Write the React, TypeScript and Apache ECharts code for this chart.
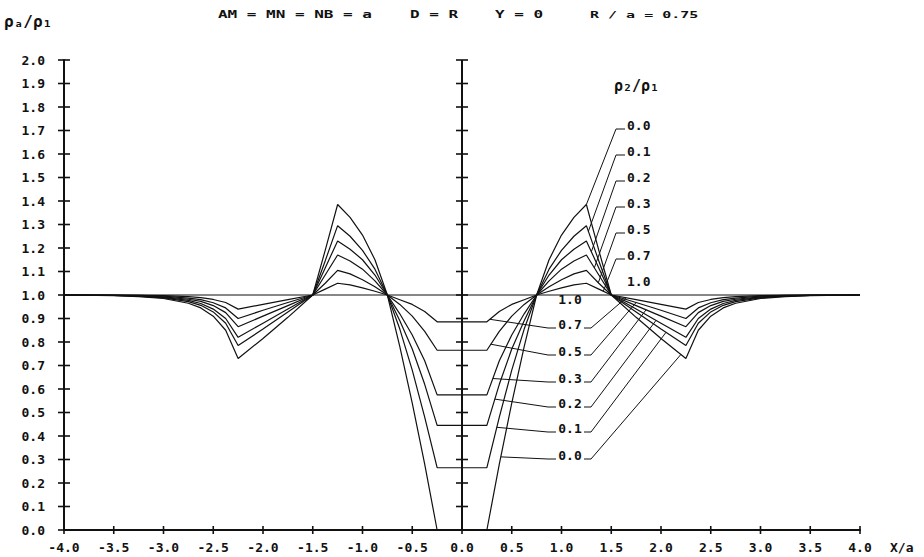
import React, { useEffect, useRef } from "react";
import * as echarts from "echarts";

const INK = "#111";
const MONO = '"DejaVu Sans Mono", "Liberation Mono", "DejaVu Sans", monospace';

// x/a positions at which the apparent-resistivity curves are sampled
const X_POS = [
  -4, -3.5, -3.25, -3, -2.75, -2.625, -2.5, -2.375, -2.25, -2, -1.75, -1.5, -1.375, -1.25, -1.125,
  -1, -0.875, -0.75, -0.625, -0.5, -0.375, -0.25, 0, 0.25, 0.375, 0.5, 0.625, 0.75, 0.875, 1,
  1.125, 1.25, 1.375, 1.5, 1.75, 2, 2.25, 2.375, 2.5, 2.625, 2.75, 3, 3.25, 3.5, 4,
];

// rho_a / rho_1 for each contrast rho_2 / rho_1
const RHO_00 = [
  1.0, 0.997, 0.993, 0.985, 0.965, 0.945, 0.91, 0.85, 0.73, 0.815, 0.905, 1.0, 1.19, 1.385, 1.33,
  1.255, 1.15, 1.0, 0.78, 0.54, 0.28, 0.0, 0.0, 0.0, 0.28, 0.54, 0.78, 1.0, 1.15, 1.255,
  1.33, 1.385, 1.19, 1.0, 0.905, 0.815, 0.73, 0.85, 0.91, 0.945, 0.965, 0.985, 0.993, 0.997, 1.0,
];
const RHO_01 = [
  1.0, 0.998, 0.995, 0.988, 0.972, 0.956, 0.928, 0.88, 0.785, 0.855, 0.928, 1.0, 1.145, 1.295, 1.25,
  1.19, 1.11, 1.0, 0.855, 0.68, 0.48, 0.265, 0.265, 0.265, 0.48, 0.68, 0.855, 1.0, 1.11, 1.19,
  1.25, 1.295, 1.145, 1.0, 0.928, 0.855, 0.785, 0.88, 0.928, 0.956, 0.972, 0.988, 0.995, 0.998, 1.0,
];
const RHO_02 = [
  1.0, 0.998, 0.996, 0.99, 0.977, 0.964, 0.94, 0.9, 0.82, 0.88, 0.94, 1.0, 1.115, 1.23, 1.195,
  1.15, 1.085, 1.0, 0.89, 0.77, 0.62, 0.445, 0.445, 0.445, 0.62, 0.77, 0.89, 1.0, 1.085, 1.15,
  1.195, 1.23, 1.115, 1.0, 0.94, 0.88, 0.82, 0.9, 0.94, 0.964, 0.977, 0.99, 0.996, 0.998, 1.0,
];
const RHO_03 = [
  1.0, 0.999, 0.997, 0.992, 0.982, 0.973, 0.955, 0.925, 0.865, 0.91, 0.955, 1.0, 1.085, 1.17, 1.145,
  1.11, 1.06, 1.0, 0.92, 0.83, 0.72, 0.575, 0.575, 0.575, 0.72, 0.83, 0.92, 1.0, 1.06, 1.11,
  1.145, 1.17, 1.085, 1.0, 0.955, 0.91, 0.865, 0.925, 0.955, 0.973, 0.982, 0.992, 0.997, 0.999, 1.0,
];
const RHO_05 = [
  1.0, 0.999, 0.998, 0.995, 0.987, 0.98, 0.967, 0.945, 0.9, 0.935, 0.968, 1.0, 1.05, 1.105, 1.09,
  1.065, 1.035, 1.0, 0.96, 0.91, 0.845, 0.765, 0.765, 0.765, 0.845, 0.91, 0.96, 1.0, 1.035, 1.065,
  1.09, 1.105, 1.05, 1.0, 0.968, 0.935, 0.9, 0.945, 0.967, 0.98, 0.987, 0.995, 0.998, 0.999, 1.0,
];
const RHO_07 = [
  1.0, 1.0, 0.999, 0.997, 0.993, 0.989, 0.981, 0.968, 0.94, 0.96, 0.98, 1.0, 1.025, 1.05, 1.043,
  1.03, 1.016, 1.0, 0.98, 0.96, 0.93, 0.886, 0.886, 0.886, 0.93, 0.96, 0.98, 1.0, 1.016, 1.03,
  1.043, 1.05, 1.025, 1.0, 0.98, 0.96, 0.94, 0.968, 0.981, 0.989, 0.993, 0.997, 0.999, 1.0, 1.0,
];
const RHO_10 = [
  1, 1, 1, 1, 1, 1, 1, 1, 1, 1, 1, 1, 1, 1, 1, 1, 1, 1, 1, 1, 1, 1, 1, 1, 1, 1, 1, 1, 1, 1,
  1, 1, 1, 1, 1, 1, 1, 1, 1, 1, 1, 1, 1, 1, 1,
];

const CURVE_NAMES = ["0.0", "0.1", "0.2", "0.3", "0.5", "0.7", "1.0"];

const X_TICKS = [-4, -3.5, -3, -2.5, -2, -1.5, -1, -0.5, 0, 0.5, 1, 1.5, 2, 2.5, 3, 3.5, 4];
const Y_TICKS = [
  0, 0.1, 0.2, 0.3, 0.4, 0.5, 0.6, 0.7, 0.8, 0.9, 1.0, 1.1, 1.2, 1.3, 1.4, 1.5, 1.6, 1.7, 1.8, 1.9, 2.0,
];

// x/a where each leader line meets its curve (order 0.0 .. 0.7)
const UPPER_ANCHOR = [1.25, 1.27, 1.3, 1.33, 1.37, 1.42];
const LOWER_LEFT_ANCHOR = [0.39, 0.35, 0.33, 0.31, 0.29, 0.28];
const LOWER_RIGHT_ANCHOR = [2.2, 2.05, 1.95, 1.85, 1.75, 1.65];

// label block layout (pixels)
const UPPER_LABEL_X = 627;
const UPPER_LABEL_Y = [125, 151, 177, 203, 229, 255, 281];
const LOWER_LABEL_X = 570;
const LOWER_LABEL_Y = [455, 428, 403, 378, 351, 324, 299];

function valueAt(ys: number[], x: number): number {
  for (let i = 0; i < X_POS.length - 1; i++) {
    const a = X_POS[i];
    const b = X_POS[i + 1];
    if (x >= a && x <= b) {
      const t = (x - a) / (b - a);
      return ys[i] + (ys[i + 1] - ys[i]) * t;
    }
  }
  return ys[ys.length - 1];
}

function tickSeries(name: string, data: number[][], vertical: boolean, half: number) {
  return {
    type: "custom",
    name,
    silent: true,
    clip: false,
    z: 6,
    data,
    renderItem: (_params: any, api: any) => {
      const p = api.coord([api.value(0), api.value(1)]);
      const shape = vertical
        ? { x1: p[0], y1: p[1] - half, x2: p[0], y2: p[1] + half }
        : { x1: p[0] - half, y1: p[1], x2: p[0] + half, y2: p[1] };
      return { type: "line", shape, style: { stroke: INK, lineWidth: 1.6 } };
    },
  };
}

export default function App() {
  const ref = useRef<HTMLDivElement>(null);

  useEffect(() => {
    if (!ref.current) return;
    const chart = echarts.init(ref.current, null, { renderer: "svg" });
    const curves = [RHO_00, RHO_01, RHO_02, RHO_03, RHO_05, RHO_07, RHO_10];

    const curveSeries = curves.map((ys, k) => ({
      type: "line",
      name: CURVE_NAMES[k],
      data: X_POS.map((x, i) => [x, ys[i]]),
      symbol: "none",
      silent: true,
      z: 3,
      lineStyle: { color: INK, width: 1.2 },
    }));

    const labelFont = { fontFamily: MONO, fontWeight: "bold", fontSize: 13, color: INK };

    chart.setOption({
      animation: false,
      backgroundColor: "#ffffff",
      grid: { left: 64, right: 64, top: 60, bottom: 27, containLabel: false },
      xAxis: {
        type: "value",
        min: -4,
        max: 4,
        interval: 0.5,
        axisLine: { show: true, lineStyle: { color: INK, width: 2 } },
        axisTick: { show: false },
        splitLine: { show: false },
        axisLabel: { ...labelFont, margin: 11, formatter: (v: number) => v.toFixed(1) },
      },
      yAxis: {
        type: "value",
        min: 0,
        max: 2,
        interval: 0.1,
        axisLine: { show: true, onZero: false, lineStyle: { color: INK, width: 2 } },
        axisTick: { show: false },
        splitLine: { show: false },
        axisLabel: { ...labelFont, margin: 19, formatter: (v: number) => v.toFixed(1) },
      },
      series: [
        ...curveSeries,
        {
          type: "line",
          name: "centre axis",
          data: [
            [0, 0],
            [0, 2],
          ],
          symbol: "none",
          silent: true,
          z: 4,
          lineStyle: { color: INK, width: 2 },
        },
        tickSeries("x ticks", X_TICKS.map((v) => [v, 0]), true, 4),
        tickSeries("left y ticks", Y_TICKS.map((v) => [-4, v]), false, 6),
        tickSeries("centre ticks", Y_TICKS.map((v) => [0, v]), false, 6),
      ],
    });

    const toPx = (x: number, y: number) =>
      chart.convertToPixel({ gridIndex: 0 }, [x, y]) as number[];

    const text = (s: string, x: number, y: number, size: number, align: string, sy = 1) => ({
      type: "text",
      x,
      y,
      scaleY: sy,
      silent: true,
      z: 10,
      style: {
        text: s,
        fill: INK,
        font: `bold ${size}px ${MONO}`,
        align,
        verticalAlign: "middle",
      },
    });
    const poly = (pts: number[][]) => ({
      type: "polyline",
      silent: true,
      z: 9,
      shape: { points: pts },
      style: { stroke: INK, lineWidth: 1, fill: null },
    });

    const graphics: any[] = [];

    // heading and axis names
    graphics.push(text("AM = MN = NB = a", 218, 15, 16, "left", 0.62));
    graphics.push(text("D = R", 410, 15, 16, "left", 0.62));
    graphics.push(text("Y = 0", 495, 15, 16, "left", 0.62));
    graphics.push(text("R / a = 0.75", 590, 15, 15, "left", 0.62));
    graphics.push(text("ρₐ/ρ₁", 4, 21, 16, "left"));
    graphics.push(text("X/a", 890, 547, 13, "left"));
    graphics.push(text("ρ₂/ρ₁", 614, 86, 15, "left"));

    // upper label column with leaders to the right-hand peaks
    CURVE_NAMES.forEach((name, k) => {
      const yc = UPPER_LABEL_Y[k];
      graphics.push(text(name, UPPER_LABEL_X, yc, 13, "left"));
      if (k < UPPER_ANCHOR.length) {
        const ax = UPPER_ANCHOR[k];
        const p = toPx(ax, valueAt(curves[k], ax));
        graphics.push(
          poly([
            [p[0], p[1]],
            [616, yc + 4],
            [625, yc + 4],
          ])
        );
      }
    });

    // lower label column with leaders to the trough and to the right-hand flank
    CURVE_NAMES.forEach((name, k) => {
      const yc = LOWER_LABEL_Y[k];
      graphics.push(text(name, LOWER_LABEL_X, yc, 13, "center"));
      if (k < LOWER_LEFT_ANCHOR.length) {
        const lx = LOWER_LEFT_ANCHOR[k];
        const rx = LOWER_RIGHT_ANCHOR[k];
        const pl = toPx(lx, valueAt(curves[k], lx));
        const pr = toPx(rx, valueAt(curves[k], rx));
        graphics.push(
          poly([
            [pl[0], pl[1]],
            [548, yc + 4],
            [556, yc + 4],
          ])
        );
        graphics.push(
          poly([
            [584, yc + 4],
            [591, yc + 4],
            [pr[0], pr[1]],
          ])
        );
      }
    });

    chart.setOption({ graphic: graphics });

    return () => chart.dispose();
  }, []);

  return (
    <div
      ref={ref}
      style={{ position: "fixed", left: 0, top: 0, width: 924, height: 557, background: "#fff" }}
    />
  );
}
